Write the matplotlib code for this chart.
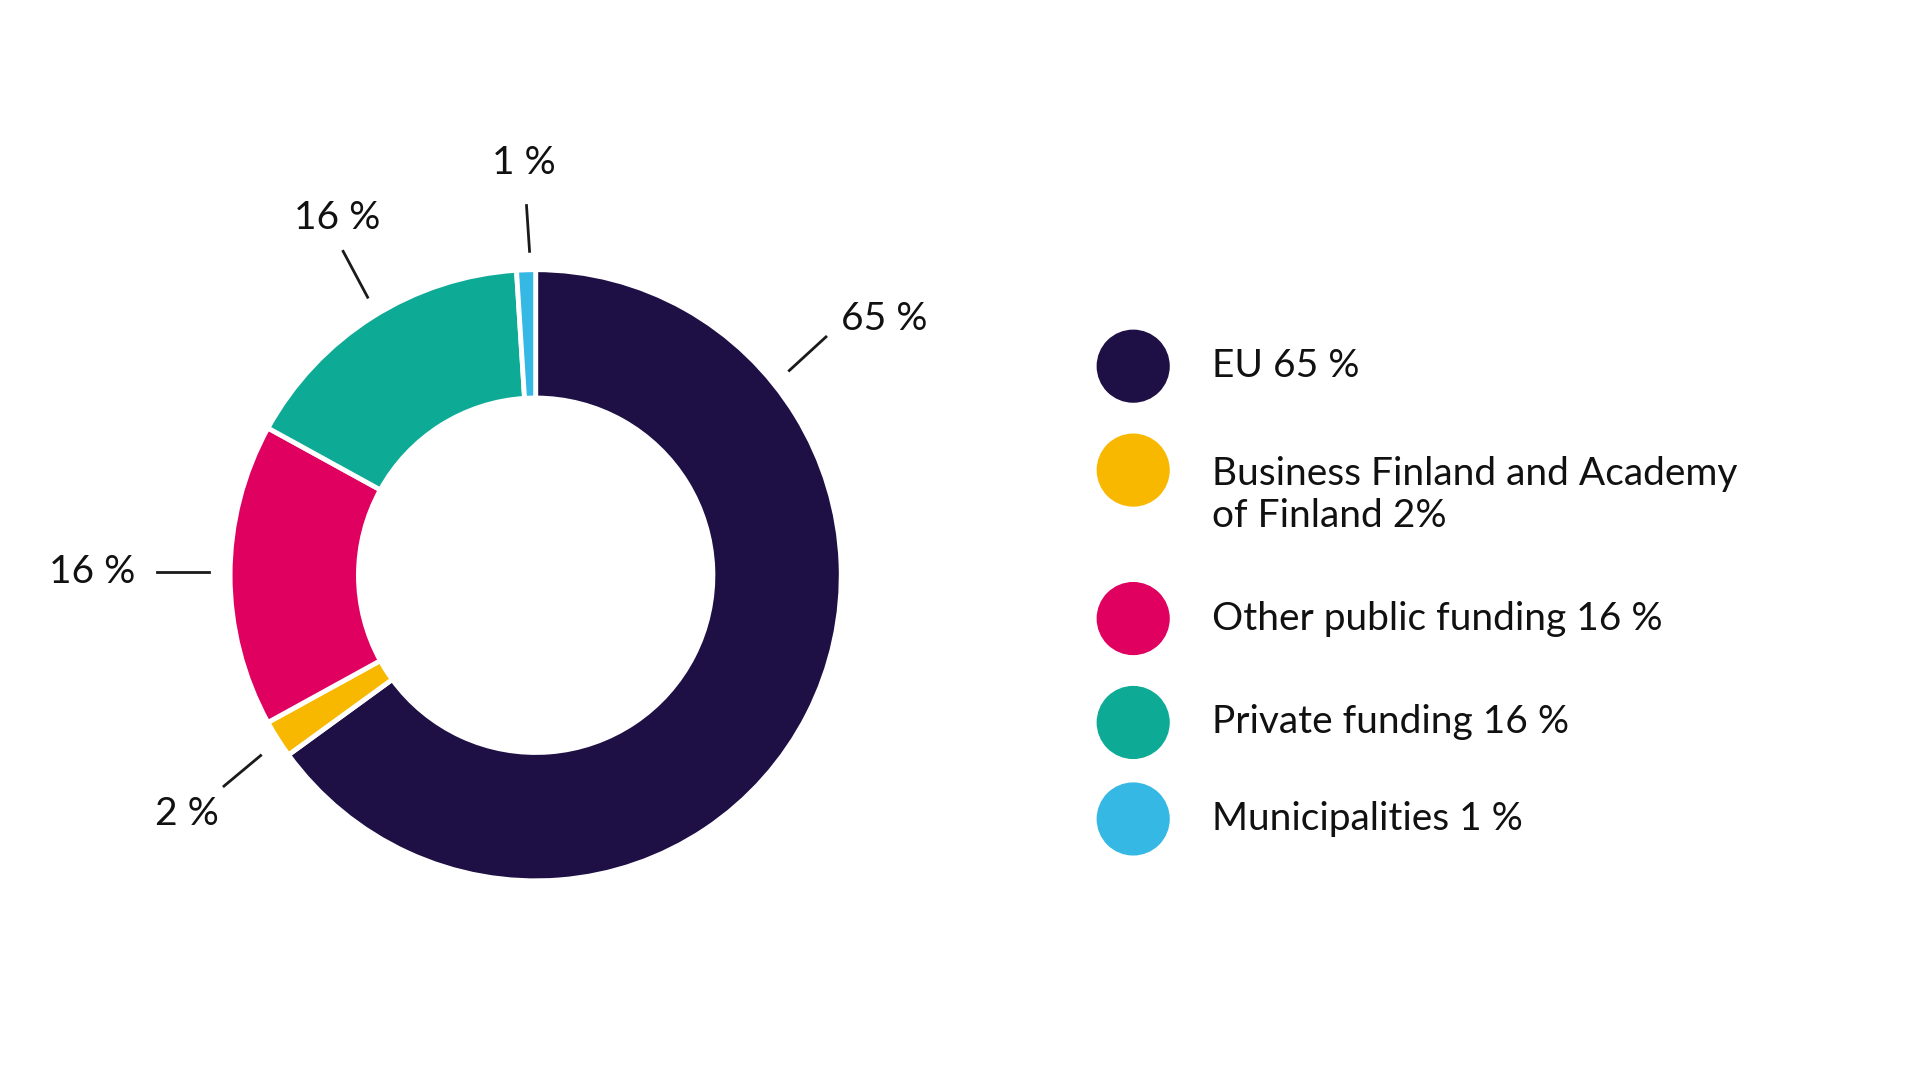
import matplotlib.pyplot as plt
from matplotlib.patches import Circle
import numpy as np

# data
labels = ["EU 65 %", "Business Finland and Academy\nof Finland 2%",
          "Other public funding 16 %", "Private funding 16 %", "Municipalities 1 %"]
shares = [65, 2, 16, 16, 1]
value_labels = ["65 %", "2 %", "16 %", "16 %", "1 %"]
colors = ["#1e0f45", "#f9b800", "#e0005f", "#0dab96", "#35b8e4"]

# label placement (radius units around centre): line start, line end, text
line_a = [(0.83, 0.67), (-0.90, -0.59), (-1.07, 0.01), (-0.55, 0.91), (-0.02, 1.06)]
line_b = [(0.95, 0.78), (-1.02, -0.69), (-1.24, 0.01), (-0.63, 1.06), (-0.03, 1.21)]
text_pos = [(1.14, 0.84), (-1.14, -0.78), (-1.45, 0.01), (-0.65, 1.17), (-0.04, 1.35)]

plt.rcParams["font.family"] = "Lato"
fig = plt.figure(figsize=(19.2, 10.8), dpi=100)
ax = fig.add_axes([0, 0, 1, 1])

cx, cy, R = 433, 465, 247
# y axis is inverted below, so angles/direction are mirrored
ax.pie(shares, colors=colors, startangle=-90, counterclock=True,
       center=(cx, cy), radius=R,
       wedgeprops=dict(width=R * 0.42, edgecolor="white", linewidth=3.5))

for a, b, t, lab in zip(line_a, line_b, text_pos, value_labels):
    ax.plot([cx + a[0] * R, cx + b[0] * R], [cy - a[1] * R, cy - b[1] * R],
            color="#1a1a1a", lw=2)
    ax.text(cx + t[0] * R, cy - t[1] * R, lab, ha="center", va="center",
            fontsize=28, color="#111111")

# legend
leg_y = [296, 380, 500, 584, 662]
for y, lab, c in zip(leg_y, labels, colors):
    ax.add_patch(Circle((916, y), 29, color=c))
    ty = y + 20 if "\n" in lab else y
    ax.text(980, ty, lab, ha="left", va="center", fontsize=28,
            color="#111111", linespacing=1.2)

ax.set_xlim(0, 1552)
ax.set_ylim(873, 0)
ax.set_aspect("equal")
ax.axis("off")

fig.savefig("out.png", dpi=100, facecolor="white")
